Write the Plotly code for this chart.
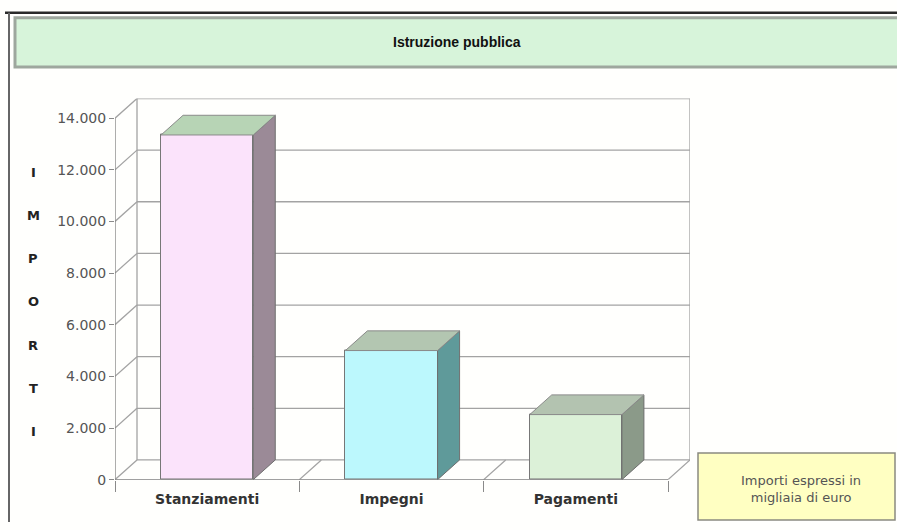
import plotly.graph_objects as go

# ---- data ----
categories = ["Stanziamenti", "Impegni", "Pagamenti"]
values = [13350, 5000, 2520]
front_colors = ["#fbe3fb", "#bcf8fd", "#dcf1d8"]
side_colors = ["#9b8a97", "#5f9a9a", "#8b9a89"]
top_colors = ["#b7d4b5", "#b3c6b1", "#b3c3b0"]
y_ticks = [0, 2000, 4000, 6000, 8000, 10000, 12000, 14000]
y_ticktext = ["0", "2.000", "4.000", "6.000", "8.000", "10.000", "12.000", "14.000"]
title_text = "Istruzione pubblica"
axis_title = "IMPORTI"
note_text = "Importi espressi in<br>migliaia di euro"

W, H = 897, 530
# oblique depth offsets in data units
DX = 22 / (553 / 3)
DY = 20 / (367 / 14000)
BW = 0.5  # bar width
YMAX = 14000

def px(x):
    return x / W

def py(y):
    return 1 - y / H

GRID = "#a3a3a3"

fig = go.Figure()

shapes = []

def dline(x0, y0, x1, y1, color=GRID, width=1.3):
    shapes.append(dict(type="line", xref="x", yref="y", x0=x0, y0=y0, x1=x1, y1=y1,
                       line=dict(color=color, width=width), layer="below"))

# back wall gridlines and left wall diagonals
for v in y_ticks:
    dline(-0.5 + DX, v + DY, 2.5 + DX, v + DY)
    dline(-0.5, v, -0.5 + DX, v + DY)
# back wall verticals
dline(-0.5 + DX, DY, -0.5 + DX, YMAX + DY)
dline(2.5 + DX, DY, 2.5 + DX, YMAX + DY)
# floor diagonals
for xb in [0.5, 1.5, 2.5]:
    dline(xb, 0, xb + DX, DY)
# front axes
dline(-0.5, 0, -0.5, YMAX, color="#808080", width=1.3)
dline(-0.5, 0, 2.5, 0, color="#808080", width=1.3)

# frame, title box, note box (paper coords)
shapes.append(dict(type="line", xref="paper", yref="paper", x0=px(5), y0=py(13), x1=px(897), y1=py(13),
                   line=dict(color="#2a2a2a", width=2.5), layer="below"))
shapes.append(dict(type="line", xref="paper", yref="paper", x0=px(9), y0=py(13), x1=px(9), y1=py(530),
                   line=dict(color="#666666", width=2), layer="below"))
shapes.append(dict(type="rect", xref="paper", yref="paper", x0=px(15), y0=py(18), x1=px(900), y1=py(68),
                   fillcolor="#d7f4da", line=dict(color="#9ea79e", width=3), layer="below"))
shapes.append(dict(type="rect", xref="paper", yref="paper", x0=px(698), y0=py(460), x1=px(895), y1=py(528),
                   fillcolor="#ffffc2", line=dict(color="#8a8a80", width=1.5), layer="above"))

# bars: front faces
fig.add_trace(go.Bar(x=list(range(len(categories))), y=values, width=BW,
                     marker=dict(color=front_colors, line=dict(color="#777777", width=1)),
                     hoverinfo="skip", showlegend=False))

# side and top faces
for i, v in enumerate(values):
    xr = i + BW / 2
    xl = i - BW / 2
    fig.add_trace(go.Scatter(x=[xr, xr + DX, xr + DX, xr, xr], y=[0, DY, v + DY, v, 0],
                             fill="toself", fillcolor=side_colors[i], mode="lines",
                             line=dict(color="#6f6f6f", width=1), hoverinfo="skip", showlegend=False))
    fig.add_trace(go.Scatter(x=[xl, xl + DX, xr + DX, xr, xl], y=[v, v + DY, v + DY, v, v],
                             fill="toself", fillcolor=top_colors[i], mode="lines",
                             line=dict(color="#8a8a8a", width=1), hoverinfo="skip", showlegend=False))

annotations = []
annotations.append(dict(text="<b>" + title_text + "</b>", x=px(457), y=py(43), xref="paper", yref="paper",
                        showarrow=False, font=dict(family="Liberation Sans, Arial", size=14, color="#111111"),
                        xanchor="center", yanchor="middle"))
n = len(axis_title)
for k, ch in enumerate(axis_title):
    ypix = 175 + k * (438 - 175) / (n - 1)
    annotations.append(dict(text="<b>" + ch + "</b>", x=px(33), y=py(ypix), xref="paper", yref="paper",
                            showarrow=False, font=dict(family="DejaVu Sans, Arial", size=13, color="#222222"),
                            xanchor="center", yanchor="middle"))
annotations.append(dict(text=note_text, x=px(801), y=py(496), xref="paper", yref="paper", showarrow=False,
                        font=dict(family="DejaVu Sans, Arial", size=13, color="#555555"),
                        xanchor="center", yanchor="middle", align="center"))

fig.update_layout(
    width=W, height=H,
    margin=dict(l=0, r=0, t=0, b=0),
    paper_bgcolor="#fffffd",
    plot_bgcolor="rgba(0,0,0,0)",
    shapes=shapes,
    annotations=annotations,
    bargap=0,
)
fig.update_xaxes(range=[-0.5, 2.5 + DX], domain=[115 / W, 690 / W],
                 showgrid=False, zeroline=False, showline=False,
                 tickmode="array", tickvals=list(range(len(categories))),
                 ticktext=["<b>" + c + "</b>" for c in categories], ticks="",
                 ticklabelstandoff=9,
                 tickfont=dict(family="DejaVu Sans, Arial", size=14, color="#333333"),
                 minor=dict(tickmode="array", tickvals=[-0.5, 0.5, 1.5, 2.5], ticks="outside",
                            ticklen=11, tickcolor="#8a8a8a", tickwidth=1.3),
                 fixedrange=True)
fig.update_yaxes(range=[0, YMAX + DY], domain=[(H - 487) / H, (H - 100) / H],
                 showgrid=False, zeroline=False, showline=False,
                 tickmode="array", tickvals=y_ticks, ticktext=y_ticktext,
                 ticks="outside", ticklen=5, tickcolor="#8a8a8a", tickwidth=1.3,
                 tickfont=dict(family="DejaVu Sans, Arial", size=14, color="#555555"),
                 fixedrange=True)

fig.write_html("out.html", config={"displayModeBar": False},
               post_script="document.body.style.margin='0';document.body.style.overflow='hidden';")
